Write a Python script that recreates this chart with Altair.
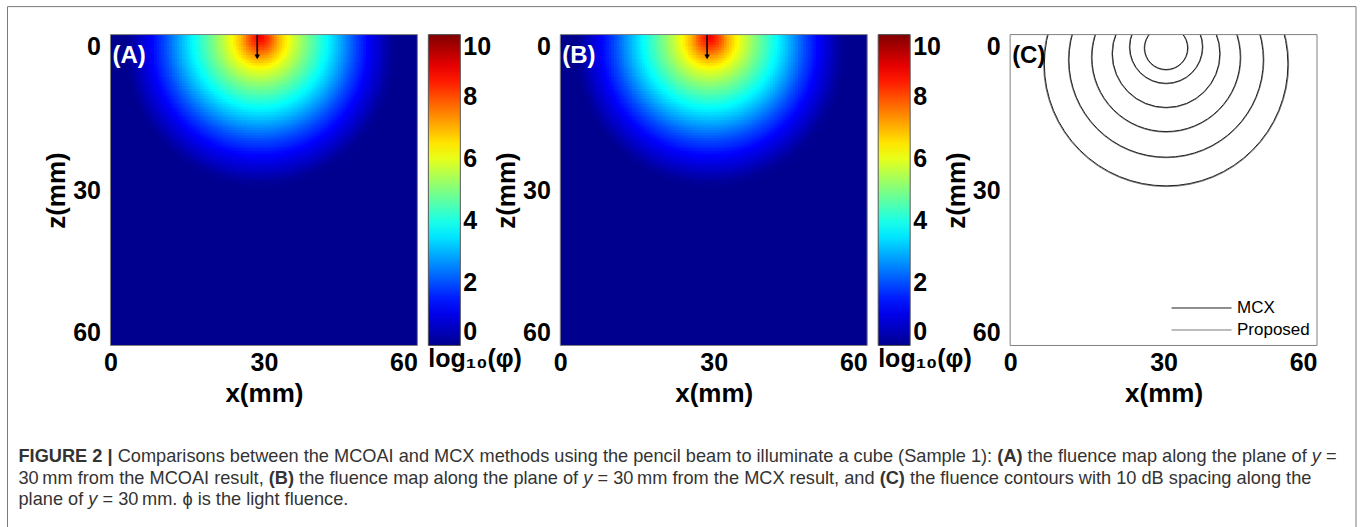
import altair as alt
import numpy as np
import pandas as pd

FONT = "Liberation Sans"
W, H = 307, 311

# ---------------- data ----------------
X_TICKS = [0, 30, 60]
Z_TICKS = [0, 30, 60]
CBAR_TICKS = [0, 2, 4, 6, 8, 10]
JET_STOPS = [0, 1.25, 3.75, 6.25, 8.75, 10]
JET_COLORS = ["#00008f", "#0000ff", "#00ffff", "#ffff00", "#ff0000", "#800000"]

# log10(fluence) iso-levels of panels A/B: level, radius (mm), centre depth (mm)
HEAT_LEVEL = [9.0, 8.0, 7.0, 6.0, 5.0, 4.0, 3.0, 2.0, 1.0, 0.0]
HEAT_R = [0.0, 2.0, 3.6, 6.0, 9.0, 12.3, 15.5, 18.5, 22.0, 26.0]
HEAT_CZ = [0.3, 0.8, 1.2, 1.0, 1.0, 1.0, 1.3, 1.8, 2.5, 3.0]
HEAT_CX = 29.2
CELL = 0.5

# 10 dB contours of panel C: centre x, centre depth, radius (mm)
CONT_LEVEL = [6, 5, 4, 3, 2, 1]
MCX_CX = [30.5, 30.5, 30.5, 30.5, 30.5, 30.5]
MCX_CZ = [2.6, 2.4, 3.7, 4.4, 4.9, 5.7]
MCX_R = [4.2, 7.1, 10.5, 14.5, 19.0, 23.8]
PROP_CX = [30.5, 30.5, 30.5, 30.5, 30.5, 30.5]
PROP_CZ = [2.6, 2.4, 3.7, 4.4, 4.9, 5.7]
PROP_R = [4.3, 7.2, 10.6, 14.62, 19.12, 23.95]

# pencil beam arrow (mm)
ARROW_X = [28.7]
ARROW_Z0 = [0.0]
ARROW_Z1 = [4.3]

# caption segments: line number, text, style
CAP_LINE = [0, 0, 0, 0, 0, 0,
            1, 1, 1, 1, 1, 1, 1,
            2, 2, 2]
CAP_TEXT = [
    "FIGURE 2 |",
    "Comparisons between the MCOAI and MCX methods using the pencil beam to illuminate a cube (Sample 1):",
    "(A)", "the fluence map along the plane of", "y", "=",
    "30\u2009mm from the MCOAI result,", "(B)", "the fluence map along the plane of", "y",
    "= 30\u2009mm from the MCX result, and", "(C)",
    "the fluence contours with 10 dB spacing along the",
    "plane of", "y", "= 30\u2009mm. \u03d5 is the light fluence.",
]
CAP_STYLE = ["bold", "normal", "bold", "normal", "italic", "normal",
             "normal", "bold", "normal", "italic", "normal", "bold", "normal",
             "normal", "italic", "normal"]

# ---------------- caption layout helpers (Arial advance widths / 1000 em) ----------------
CAP_FS = 18.2
CAP_X0 = 18
CAP_BASE = [462, 483.5, 505]
_AR = {" ": 278, "(": 333, ")": 333, ",": 278, "-": 333, ".": 278, ":": 278, "|": 260,
       "=": 584, "\u2009": 200, "\u03d5": 600}
for _c in "0123456789":
    _AR[_c] = 556
_AR.update(dict(zip("ABCDEFGHIJKLMNOPQRSTUVWXYZ",
                    [667, 667, 722, 722, 667, 611, 778, 722, 278, 500, 667, 556, 833, 722, 778,
                     667, 778, 722, 667, 611, 722, 667, 944, 667, 667, 611])))
_AR.update(dict(zip("abcdefghijklmnopqrstuvwxyz",
                    [556, 556, 500, 556, 556, 278, 556, 556, 222, 222, 500, 222, 833, 556, 556,
                     556, 556, 333, 500, 278, 556, 500, 722, 500, 500, 500])))
_AB = {"A": 722, "B": 722, "C": 722, "E": 667, "F": 611, "G": 778, "I": 278, "R": 722,
       "U": 722, "|": 280, " ": 278, "(": 333, ")": 333, "2": 556}


def text_width(s, style):
    tbl = _AB if style == "bold" else _AR
    return sum(tbl.get(ch, _AR.get(ch, 556)) for ch in s) * CAP_FS / 1000.0


cap_px, cap_py = [], []
_cursor = {}
for ln, txt, st in zip(CAP_LINE, CAP_TEXT, CAP_STYLE):
    x = _cursor.get(ln, CAP_X0)
    cap_px.append(x)
    cap_py.append(CAP_BASE[ln])
    _cursor[ln] = x + text_width(txt, st) + 0.278 * CAP_FS

# ---------------- build tables ----------------
xs = np.arange(0, 60, CELL)
zs = np.arange(0, 36, CELL)
XX, ZZ = np.meshgrid(xs + CELL / 2, zs + CELL / 2)
lev = np.zeros_like(XX)
done = np.zeros(XX.shape, dtype=bool)
f_prev = np.hypot(XX - HEAT_CX, ZZ - HEAT_CZ[0]) - HEAT_R[0]
with np.errstate(divide="ignore", invalid="ignore"):
    for k in range(1, len(HEAT_LEVEL)):
        f = np.hypot(XX - HEAT_CX, ZZ - HEAT_CZ[k]) - HEAT_R[k]
        inside = (f <= 0) & ~done
        t = np.where(f_prev - f != 0, f_prev / (f_prev - f), 0.0)
        val = HEAT_LEVEL[k - 1] + t * (HEAT_LEVEL[k] - HEAT_LEVEL[k - 1])
        lev[inside] = val[inside]
        done |= inside
        f_prev = f
mask = lev > 0.03
heat_df = pd.DataFrame({
    "x": np.round(XX[mask] - CELL / 2, 2),
    "z": np.round(ZZ[mask] - CELL / 2, 2),
    "v": np.round(lev[mask], 2),
})
bg_df = pd.DataFrame({"x": [0], "x2": [60], "z": [0], "z2": [60], "v": [0]})
arrow_df = pd.DataFrame({"x": ARROW_X, "z0": ARROW_Z0, "z1": ARROW_Z1})

cont_df = pd.concat([
    pd.DataFrame({"series": "Proposed", "level": CONT_LEVEL, "cx": PROP_CX, "cz": PROP_CZ, "r": PROP_R}),
    pd.DataFrame({"series": "MCX", "level": CONT_LEVEL, "cx": MCX_CX, "cz": MCX_CZ, "r": MCX_R}),
], ignore_index=True)

cap_df = pd.DataFrame({"text": CAP_TEXT, "px": np.round(cap_px, 1), "py": cap_py, "style": CAP_STYLE})

# ---------------- scales / axes ----------------
XS = alt.Scale(domain=[0, 60], nice=False, zero=False)
ZS = alt.Scale(domain=[0, 60], nice=False, zero=False, reverse=True)

XA = alt.Axis(values=X_TICKS, title="x(mm)", grid=False, ticks=False, tickSize=0, domain=False,
              labelFont=FONT, labelFontSize=25, labelFontWeight="bold", labelColor="black",
              labelBaseline="alphabetic", labelPadding=25,
              labelAlign={"condition": {"test": "datum.value == 60", "value": "right"}, "value": "center"},
              titleFont=FONT, titleFontSize=26, titleFontWeight="bold", titleColor="black",
              titleBaseline="alphabetic", titleY=56)
ZA = alt.Axis(values=Z_TICKS, title="z(mm)", grid=False, ticks=False, tickSize=0, domain=False,
              labelFont=FONT, labelFontSize=25, labelFontWeight="bold", labelColor="black",
              labelPadding=10, labelFlush=True,
              titleFont=FONT, titleFontSize=26, titleFontWeight="bold", titleColor="black",
              titleAngle=270, titleAlign="center", titleBaseline="alphabetic",
              titleX=-46, titleY=H / 2)

CSCALE = alt.Scale(domain=JET_STOPS, range=JET_COLORS, interpolate="rgb", clamp=True)
CLEG = alt.Legend(orient="none", legendX=W + 11, legendY=0, direction="vertical",
                  gradientLength=H, gradientThickness=32, values=CBAR_TICKS,
                  labelOverlap=False, labelFont=FONT, labelFontSize=25, labelFontWeight="bold",
                  labelColor="black", labelOffset=3, labelBaseline="middle",
                  title="log\u2081\u2080(\u03c6)", titleOrient="bottom", titleAnchor="start",
                  titleFont=FONT, titleFontSize=25, titleFontWeight="bold", titleColor="black",
                  titlePadding=1, gradientStrokeColor="#555555", gradientStrokeWidth=1)


def frame_layer():
    return alt.Chart(bg_df).mark_rect(fill="transparent", stroke="#808080", strokeWidth=1).encode(
        x=alt.value(0), x2=alt.value(W), y=alt.value(0), y2=alt.value(H))


def heat_panel(tag):
    color = alt.Color("v:Q", scale=CSCALE, legend=CLEG)
    bg = alt.Chart(bg_df).mark_rect().encode(
        x=alt.X("x:Q", scale=XS, axis=XA), x2="x2:Q",
        y=alt.Y("z:Q", scale=ZS, axis=ZA), y2="z2:Q", color=color)
    heat = alt.Chart(heat_df).transform_calculate(
        x2=f"datum.x + {CELL * 2}", z2=f"datum.z + {CELL * 2}"
    ).mark_rect(clip=True).encode(
        x=alt.X("x:Q", scale=XS, axis=XA), x2="x2:Q",
        y=alt.Y("z:Q", scale=ZS, axis=ZA), y2="z2:Q", color=color)
    rule = alt.Chart(arrow_df).mark_rule(color="black", strokeWidth=1.6).encode(
        x=alt.X("x:Q", scale=XS, axis=XA),
        y=alt.Y("z0:Q", scale=ZS, axis=ZA), y2="z1:Q")
    head = alt.Chart(arrow_df).mark_point(shape="triangle-down", filled=True, color="black",
                                          size=30, opacity=1).encode(
        x=alt.X("x:Q", scale=XS, axis=XA), y=alt.Y("z1:Q", scale=ZS, axis=ZA))
    label = alt.Chart(bg_df).mark_text(text=tag, font=FONT, fontSize=24, fontWeight="bold",
                                       color="white", align="left", baseline="alphabetic").encode(
        x=alt.value(2), y=alt.value(28))
    return alt.layer(bg, heat, rule, head, label, frame_layer()).properties(width=W, height=H)


panel_a = heat_panel("(A)")
panel_b = heat_panel("(B)")

SLEG = alt.Legend(orient="bottom-right", offset=7, padding=0, symbolType="M-11.4,0H0.6",
                  symbolSize=100, symbolStrokeWidth=1, labelFont=FONT, labelFontSize=17,
                  labelColor="black", labelOffset=0, rowPadding=4)
arcs = alt.Chart(cont_df).mark_arc(filled=False, clip=True, theta=0, theta2=6.2832, strokeWidth=1).encode(
    x=alt.X("cx:Q", scale=XS, axis=XA),
    y=alt.Y("cz:Q", scale=ZS, axis=ZA),
    radius=alt.Radius("r:Q", stack=False,
                      scale=alt.Scale(type="linear", domain=[0, 60], range=[0, W])),
    stroke=alt.Stroke("series:N", title=None,
                      scale=alt.Scale(domain=["MCX", "Proposed"], range=["#1e1e1e", "#7a7a7a"]),
                      legend=SLEG),
    strokeDash=alt.StrokeDash("series:N", title=None,
                              scale=alt.Scale(domain=["MCX", "Proposed"], range=[[1, 0], [1, 1]]),
                              legend=SLEG),
)
label_c = alt.Chart(bg_df).mark_text(text="(C)", font=FONT, fontSize=24, fontWeight="bold",
                                     color="black", align="left", baseline="alphabetic").encode(
    x=alt.value(2), y=alt.value(28))
panel_c = alt.layer(arcs, label_c, frame_layer()).properties(width=W, height=H)

# caption block (coordinates relative to caption view origin)
VSP = 10
OX, OY = 110, 34 + H + VSP
cap_base = alt.Chart(cap_df).transform_calculate(
    rx=f"datum.px - {OX}", ry=f"datum.py - {OY}")
cap_layers = []
for style, weight, fstyle in [("normal", "normal", "normal"), ("bold", "bold", "normal"),
                              ("italic", "normal", "italic")]:
    cap_layers.append(
        cap_base.transform_filter(f"datum.style == '{style}'").mark_text(
            align="left", baseline="alphabetic", font=FONT, fontSize=CAP_FS,
            fontWeight=weight, fontStyle=fstyle, color="#333333").encode(
            x=alt.X("rx:Q", scale=None, axis=None),
            y=alt.Y("ry:Q", scale=None, axis=None),
            text="text:N"))
outer = alt.Chart(bg_df).mark_rect(fill="transparent", stroke="#7a7a7a", strokeWidth=1).encode(
    x=alt.value(7 - OX), x2=alt.value(1356 - OX), y=alt.value(6 - OY), y2=alt.value(545 - OY))
caption = alt.layer(outer, *cap_layers).properties(width=W, height=100)

chart = alt.concat(panel_a, panel_b, panel_c, caption, columns=3,
                   spacing={"row": VSP, "column": 143}, bounds="flush").resolve_scale(
    color="independent", stroke="independent", strokeDash="independent",
    x="independent", y="independent").resolve_legend(
    color="independent", stroke="independent", strokeDash="independent").properties(
    padding={"left": 6.5, "top": 5.5, "right": 3, "bottom": 0},
    background="white",
).configure_view(strokeWidth=0)

chart.save("out.html", embed_options={"renderer": "svg", "actions": False})
